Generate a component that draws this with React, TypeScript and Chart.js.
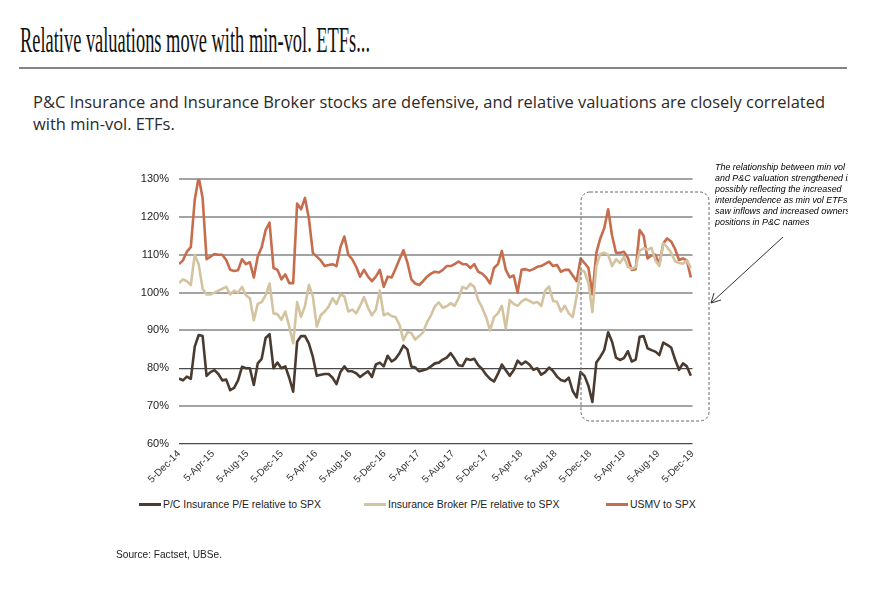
import React, { useEffect, useRef } from 'react';
import { Chart, registerables } from 'chart.js';

Chart.register(...registerables);

// ---------- data ----------
const startDate = '2014-12-05';
const stepDays = 14;

const xTickDates = [
  '2014-12-05', '2015-04-05', '2015-08-05', '2015-12-05', '2016-04-05', '2016-08-05',
  '2016-12-05', '2017-04-05', '2017-08-05', '2017-12-05', '2018-04-05', '2018-08-05',
  '2018-12-05', '2019-04-05', '2019-08-05', '2019-12-05',
];
const xTickLabels = [
  '5-Dec-14', '5-Apr-15', '5-Aug-15', '5-Dec-15', '5-Apr-16', '5-Aug-16',
  '5-Dec-16', '5-Apr-17', '5-Aug-17', '5-Dec-17', '5-Apr-18', '5-Aug-18',
  '5-Dec-18', '5-Apr-19', '5-Aug-19', '5-Dec-19',
];
const yMin = 60;
const yMax = 130;
const yStep = 10;

const seriesNames = [
  'P/C Insurance P/E relative to SPX',
  'Insurance Broker P/E relative to SPX',
  'USMV to SPX',
];
const seriesColors = ['#4a3b30', '#d4c3a1', '#c66d4d'];

const pcInsurance = [
  77.3, 76.8, 77.8, 77.2, 85.7, 88.8, 88.5, 78, 79, 79.5,
  78.5, 76.8, 77, 74.2, 74.8, 76.8, 80.4, 80, 80, 75.6,
  81.3, 82.5, 88, 89, 80, 81.5, 80, 80.5, 77.5, 73.8,
  87, 88.5, 88.5, 86.5, 83, 78, 78.3, 78.5, 78.5, 77.5,
  75.8, 79, 80.5, 79.2, 79.2, 78.7, 77.7, 78.5, 79.2, 77.7,
  81, 81.5, 80.5, 83.3, 81.8, 82.5, 84, 86, 85, 80.5,
  80.2, 79.2, 79.5, 79.8, 80.5, 81.3, 81.5, 82.3, 82.8, 84,
  82.5, 80.8, 80.6, 82.5, 82.2, 82.5, 80.8, 79.8, 78.3, 77.2,
  76.5, 78.5, 81, 79.5, 78, 79.5, 82, 81, 81.8, 81,
  79.6, 80, 78.3, 79, 80.2, 79.3, 77.8, 76.9, 76.6, 77.5,
  74, 72.3, 79, 78, 75.3, 71.1, 81.5, 83, 84.8, 89.5,
  87, 82.8, 82.2, 82.7, 84.5, 81.8, 82.3, 88.3, 88.5, 85.3,
  84.8, 84.4, 83.5, 86.8, 86.2, 85.5, 82.3, 79.6, 81.3, 80.5,
  78,
];

const insuranceBroker = [
  102.5, 103.5, 103, 102, 110, 107.5, 101, 99.5, 99.5, 100,
  100.5, 101, 101.5, 99.5, 100.5, 100, 101.5, 99.3, 98.5, 92.7,
  97, 97.5, 99.3, 102.4, 94.5, 94.3, 92.8, 95, 91, 86.6,
  97.5, 93.6, 96.5, 102, 99, 91, 94, 95, 96.3, 98.5,
  97, 99.5, 99, 95, 95.5, 94.5, 96.5, 98.8, 96, 94,
  95.5, 100.5, 94, 94.5, 93.8, 93.5, 91.5, 87.4, 89.5, 89.3,
  87.6, 88.5, 89.5, 92.2, 94, 96.4, 97.4, 96, 96.4, 97.2,
  96.5, 98.5, 101.5, 101, 102.3, 101.5, 98, 96, 93.5, 90,
  93.5, 94.5, 96.5, 90.5, 98, 97, 96.5, 97.6, 98.3, 97.8,
  97.2, 97.5, 96.5, 100.5, 101.6, 97.8, 97.6, 95, 96.5, 94.5,
  93.5, 99, 106, 105.5, 102.5, 94.8, 107, 110.2, 110.5, 110,
  107, 108.8, 107.8, 109.4, 106.8, 106.3, 106.7, 111, 111.7, 111.3,
  111.8, 108.5, 107, 113, 112, 110.5, 108.3, 107.8, 107.6, 108.5,
  106.5,
];

const usmv = [
  107.5, 108.5, 110.8, 112, 124.5, 130.5, 125, 108.8, 109.5, 110.2,
  110, 110, 108.6, 106, 105.7, 105.9, 108.8, 107.5, 108, 104,
  109.5, 112, 116.5, 118.5, 106.5, 106, 103.5, 104.8, 102.5, 102.5,
  123.5, 122, 125, 119.5, 110.5, 109.5, 108.5, 107, 107.3, 107.5,
  107, 112, 114.8, 110, 108.8, 106.8, 104.2, 106, 104.2, 103,
  104.2, 106, 101.5, 104.2, 104, 106.3, 108.8, 111.2, 108, 103.5,
  102.4, 102, 103, 104.2, 105, 105.5, 105.3, 106, 107, 107,
  107.5, 108.2, 107.5, 107.5, 106.5, 107.5, 105.5, 105, 104, 102.4,
  106.5, 107.5, 111, 106, 104, 104.5, 100, 106, 106.2, 105.8,
  106.2, 106.8, 107, 107.6, 108.2, 107, 107.3, 105.5, 106, 106,
  104.5, 103, 109, 107.8, 106.5, 99.5, 110.5, 114.3, 117, 122,
  115, 110.5, 110.5, 110.8, 109.2, 106, 106.2, 116.5, 115, 109,
  109.8, 110, 107.5, 113, 114.3, 113.5, 111.5, 108.6, 109, 108.5,
  104,
];

const titleText = 'Relative valuations move with min-vol. ETFs...';
const subtitleLines = [
  'P&C Insurance and Insurance Broker stocks are defensive, and relative valuations are closely correlated',
  'with min-vol. ETFs.',
];
const noteLines = [
  'The relationship between min vol',
  'and P&C valuation strengthened in',
  'possibly reflecting the increased',
  'interdependence as min vol ETFs',
  'saw inflows and increased ownership',
  'positions in P&C names',
];
const sourceText = 'Source: Factset, UBSe.';

// ---------- helpers ----------
const DAY = 86400000;
const dayOf = (d: string) => Math.round((Date.parse(d) - Date.parse(startDate)) / DAY);

let measureCtx: CanvasRenderingContext2D | null = null;
function textWidth(text: string, font: string) {
  if (!measureCtx) measureCtx = document.createElement('canvas').getContext('2d');
  measureCtx!.font = font;
  return measureCtx!.measureText(text).width;
}

function FitText(props: {
  text: string; font: string; left: number; top: number; lineHeight: number;
  width?: number; scale?: number; color?: string;
}) {
  const { text, font, left, top, lineHeight, width, scale, color } = props;
  const sx = scale ?? (width ? width / textWidth(text, font) : 1);
  return (
    <div
      style={{
        position: 'absolute', left, top, font, lineHeight: lineHeight + 'px',
        whiteSpace: 'nowrap', color: color || '#111',
        transform: `scaleX(${sx})`, transformOrigin: '0 0',
      }}
    >
      {text}
    </div>
  );
}

const SANS = '"Liberation Sans", Arial, sans-serif';

function LineChart() {
  const ref = useRef<HTMLCanvasElement>(null);
  useEffect(() => {
    const series = [pcInsurance, insuranceBroker, usmv];
    const tickDays = xTickDates.map(dayOf);
    const chart = new Chart(ref.current!, {
      type: 'line',
      data: {
        datasets: series.map((vals, si) => ({
          label: seriesNames[si],
          data: vals.map((v, i) => ({ x: i * stepDays, y: v })),
          borderColor: seriesColors[si],
          backgroundColor: seriesColors[si],
          borderWidth: 2.6,
          pointRadius: 0,
          tension: 0,
          borderJoinStyle: 'round' as const,
        })),
      },
      options: {
        animation: false,
        responsive: false,
        devicePixelRatio: 1,
        events: [],
        layout: { padding: { top: 19, right: 7, left: 0, bottom: 0 } },
        plugins: {
          tooltip: { enabled: false },
          legend: { display: false },
        },
        scales: {
          x: {
            type: 'linear',
            min: tickDays[0],
            max: tickDays[tickDays.length - 1],
            grid: { display: false, drawTicks: false },
            border: { display: false },
            afterBuildTicks: (s: any) => {
              s.ticks = tickDays.map((v) => ({ value: v }));
            },
            afterFit: (s: any) => {
              s.height = 50;
            },
            ticks: {
              autoSkip: false,
              minRotation: 45,
              maxRotation: 45,
              padding: 4,
              color: '#333',
              font: { family: SANS, size: 10 },
              callback: (_v: any, i: number) => xTickLabels[i],
            },
          },
          y: {
            min: yMin,
            max: yMax,
            border: { display: false },
            afterFit: (s: any) => {
              s.width = 59;
            },
            grid: {
              drawTicks: false,
              color: (c: any) => (c.tick && (c.tick.value === 80 || c.tick.value === 60) ? '#4a4a4a' : '#a3a3a3'),
              lineWidth: (c: any) => (c.tick && (c.tick.value === 80 || c.tick.value === 60) ? 1.2 : 2),
            },
            ticks: {
              stepSize: yStep,
              padding: 10,
              color: '#222',
              font: { family: SANS, size: 11 },
              callback: (v: any) => v + '%',
            },
          },
        },
      },
    });
    return () => chart.destroy();
  }, []);
  return (
    <canvas
      ref={ref}
      width={585}
      height={334}
      style={{ position: 'absolute', left: 120, top: 160, width: 585, height: 334 }}
    />
  );
}

const legendLeft = [139, 364, 606];

function Legend() {
  const font = '11px "Liberation Sans", sans-serif';
  const scale = 158 / textWidth(seriesNames[0], font);
  return (
    <>
      {seriesNames.map((name, i) => (
        <React.Fragment key={i}>
          <div style={{ position: 'absolute', left: legendLeft[i], top: 503, width: 22, height: 3, background: seriesColors[i] }} />
          <FitText text={name} font={font} left={legendLeft[i] + 24} top={498} lineHeight={13} scale={scale} color="#222" />
        </React.Fragment>
      ))}
    </>
  );
}

export default function App() {
  const subFont = '15.5px "Open Sans", sans-serif';
  const subScale = 792 / textWidth(subtitleLines[0], subFont);
  const noteFont = 'italic 9.5px "Liberation Sans", sans-serif';
  const noteScale = 130 / textWidth(noteLines[0], noteFont);
  return (
    <div style={{ position: 'relative', width: 876, height: 590, overflow: 'hidden', background: '#fff' }}>
      <style>{'body{margin:0;}'}</style>
      <FitText text={titleText} font={'35px "Liberation Serif", serif'} left={20} top={23} lineHeight={35} width={350} color="#111" />
      <div style={{ position: 'absolute', left: 19, top: 67, width: 828, height: 2, background: '#858585' }} />
      {subtitleLines.map((t, i) => (
        <FitText key={i} text={t} font={subFont} left={33} top={91 + i * 22} lineHeight={22} scale={subScale} color="#2a2a2a" />
      ))}
      <LineChart />
      <Legend />
      <svg width={876} height={590} style={{ position: 'absolute', left: 0, top: 0, pointerEvents: 'none' }}>
        <rect x={581} y={192} width={128} height={229} rx={9} ry={9} fill="none" stroke="#666" strokeWidth={1} strokeDasharray="3 2" />
        <line x1={783} y1={237} x2={711} y2={303} stroke="#333" strokeWidth={1} />
        <polyline points="714,293 711,303 721,300" fill="none" stroke="#333" strokeWidth={1} />
      </svg>
      <div style={{ position: 'absolute', left: 715, top: 160, width: 133, height: 70, overflow: 'hidden' }}>
        {noteLines.map((t, i) => (
          <FitText key={i} text={t} font={noteFont} left={0} top={1 + i * 11} lineHeight={11} scale={noteScale} color="#000" />
        ))}
      </div>
      <FitText text={sourceText} font={'11px "Liberation Sans", sans-serif'} left={116} top={548} lineHeight={13} width={106} color="#222" />
    </div>
  );
}
